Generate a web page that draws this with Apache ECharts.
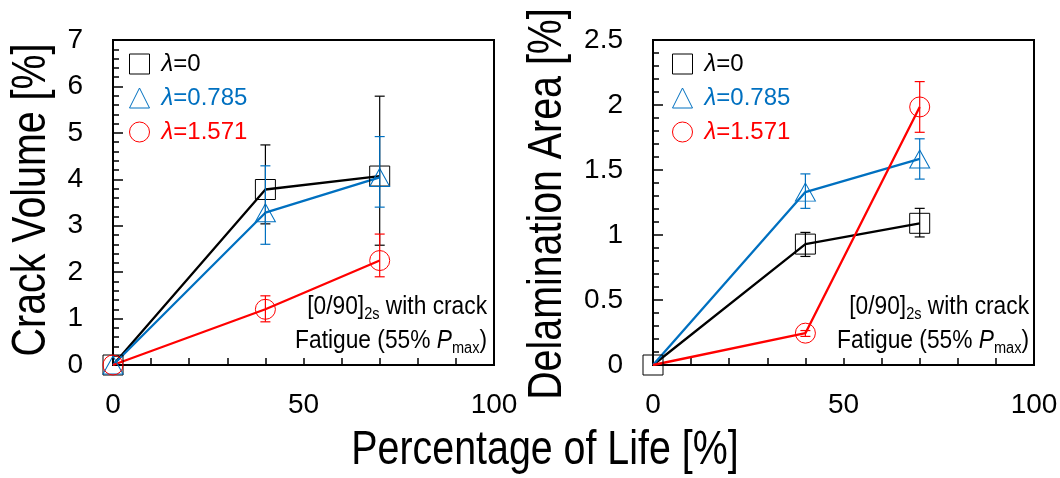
<!DOCTYPE html>
<html>
<head>
<meta charset="utf-8">
<script src="https://cdn.jsdelivr.net/npm/echarts@6/dist/echarts.min.js"></script>
<style>
  html, body { margin: 0; padding: 0; background: #ffffff; }
  #chart { width: 1060px; height: 478px; }
</style>
</head>
<body>
<div id="chart"></div>
<script>
// Inspection points, percentage of fatigue life
const lifePercent = [0, 40, 70];
const seriesNames = ['λ=0', 'λ=0.785', 'λ=1.571'];

// Crack volume [%] – mean and scatter bounds for each λ
const crackVolume0 = [0, 3.78, 4.07];
const crackVolume0Low = [null, 3.04, 2.58];
const crackVolume0High = [null, 4.74, 5.79];
const crackVolume785 = [0, 3.28, 4.04];
const crackVolume785Low = [null, 2.60, 3.40];
const crackVolume785High = [null, 4.29, 4.92];
const crackVolume1571 = [0, 1.20, 2.25];
const crackVolume1571Low = [null, 0.93, 1.90];
const crackVolume1571High = [null, 1.49, 2.82];

// Delamination area [%] – mean and scatter bounds for each λ
const delam0 = [0, 0.93, 1.09];
const delam0Low = [null, 0.835, 0.985];
const delam0High = [null, 1.02, 1.205];
const delam785 = [0, 1.33, 1.585];
const delam785Low = [null, 1.205, 1.43];
const delam785High = [null, 1.47, 1.74];
const delam1571 = [0, 0.245, 1.985];
const delam1571Low = [null, 0.22, 1.79];
const delam1571High = [null, 0.265, 2.18];

// Axis ranges and tick steps
const xTicks = { min: 0, max: 100, interval: 50 };
const crackTicks = { min: 0, max: 7, interval: 1 };
const delamTicks = { min: 0, max: 2.5, interval: 0.5 };

const FONT = "'Liberation Sans', Arial, sans-serif";
const NARROW = 0.82; // horizontal squeeze giving the narrow typeface look
const COLORS = ['#000000', '#0070C0', '#FF0000'];
const SYMBOLS = ['rect', 'triangle', 'circle'];
const SYMBOL_SIZES = [20, [20, 18], 20];

function lineSeries(idx, values, gridIdx, hideOrigin) {
  return {
    type: 'line',
    name: seriesNames[idx],
    xAxisIndex: gridIdx,
    yAxisIndex: gridIdx,
    data: values.map((v, i) => {
      const item = { value: [lifePercent[i], v] };
      if (hideOrigin && i === 0) item.symbol = 'none';
      return item;
    }),
    symbol: SYMBOLS[idx],
    symbolSize: SYMBOL_SIZES[idx],
    showSymbol: true,
    lineStyle: { color: COLORS[idx], width: 2.3 },
    itemStyle: { color: 'rgba(0,0,0,0)', borderColor: COLORS[idx], borderWidth: 1 },
    emphasis: { disabled: true },
    animation: false,
    z: 3
  };
}

function errorSeries(idx, low, high, gridIdx) {
  const rows = [];
  lifePercent.forEach((x, i) => {
    if (low[i] != null && high[i] != null) rows.push([x, low[i], high[i]]);
  });
  return {
    type: 'custom',
    name: seriesNames[idx],
    xAxisIndex: gridIdx,
    yAxisIndex: gridIdx,
    data: rows,
    encode: { x: 0, y: [1, 2] },
    renderItem: function (params, api) {
      const x = api.value(0);
      const lo = api.coord([x, api.value(1)]);
      const hi = api.coord([x, api.value(2)]);
      const w = 5;
      const style = { stroke: COLORS[idx], lineWidth: 1.2 };
      return {
        type: 'group',
        children: [
          { type: 'line', shape: { x1: lo[0], y1: lo[1], x2: hi[0], y2: hi[1] }, style: style },
          { type: 'line', shape: { x1: lo[0] - w, y1: lo[1], x2: lo[0] + w, y2: lo[1] }, style: style },
          { type: 'line', shape: { x1: hi[0] - w, y1: hi[1], x2: hi[0] + w, y2: hi[1] }, style: style }
        ]
      };
    },
    animation: false,
    z: 4
  };
}

function xAxis(gridIdx) {
  return {
    type: 'value',
    gridIndex: gridIdx,
    min: xTicks.min, max: xTicks.max, interval: xTicks.interval,
    axisLine: { show: true, onZero: false, lineStyle: { color: '#000', width: 2 } },
    axisTick: { show: true, inside: true, length: 7, lineStyle: { color: '#000', width: 1.5 } },
    minorTick: { show: true, splitNumber: 5, length: 7, lineStyle: { color: '#000', width: 1.5 } },
    splitLine: { show: false },
    axisLabel: { color: '#000', fontSize: 28, fontFamily: FONT, margin: 26 }
  };
}

function yAxis(gridIdx, ticks) {
  return {
    type: 'value',
    gridIndex: gridIdx,
    min: ticks.min, max: ticks.max, interval: ticks.interval,
    axisLine: { show: true, onZero: false, lineStyle: { color: '#000', width: 2 } },
    axisTick: { show: true, inside: true, length: 10, lineStyle: { color: '#000', width: 1.5 } },
    minorTick: { show: true, splitNumber: 5, length: 6, lineStyle: { color: '#000', width: 1.5 } },
    splitLine: { show: false },
    axisLabel: { color: '#000', fontSize: 28, fontFamily: FONT, margin: 30 }
  };
}

function legend(left) {
  return {
    orient: 'vertical',
    left: left,
    top: 47,
    itemWidth: 20,
    itemHeight: 20,
    itemGap: 10,
    selectedMode: false,
    data: seriesNames.map((n, i) => ({
      name: n,
      icon: SYMBOLS[i],
      itemStyle: { color: 'rgba(0,0,0,0)', borderColor: COLORS[i], borderWidth: 1 },
      textStyle: { color: COLORS[i] }
    })),
    formatter: n => '{i|λ}{t|' + n.slice(1) + '}',
    textStyle: {
      fontSize: 24, fontFamily: FONT, lineHeight: 20, padding: [0, 0, 0, 7],
      rich: {
        i: { fontStyle: 'italic', fontSize: 24, fontFamily: FONT, lineHeight: 20 },
        t: { fontSize: 24, fontFamily: FONT, lineHeight: 20 }
      }
    }
  };
}

function note(x, y, text) {
  return {
    type: 'text',
    x: x, y: y,
    scaleX: 0.91,
    z: 10,
    style: {
      text: text,
      fill: '#000',
      fontSize: 25,
      fontFamily: FONT,
      lineHeight: 32,
      align: 'right',
      verticalAlign: 'middle',
      rich: {
        sub: { fontSize: 16, fontFamily: FONT, lineHeight: 16, verticalAlign: 'bottom', fill: '#000' },
        it: { fontSize: 25, fontFamily: FONT, fontStyle: 'italic', fill: '#000' }
      }
    }
  };
}

function title(x, y, text, rotation) {
  return {
    type: 'text',
    x: x, y: y,
    rotation: rotation,
    scaleX: NARROW,
    z: 10,
    style: {
      text: text,
      fill: '#000', fontSize: 48, fontFamily: FONT,
      align: 'center', verticalAlign: 'middle'
    }
  };
}

const chart = echarts.init(document.getElementById('chart'), null, { renderer: 'canvas' });

chart.setOption({
  backgroundColor: '#ffffff',
  animation: false,
  grid: [
    { left: 113, top: 40, width: 381, height: 325, outerBoundsMode: 'none', containLabel: false,
      show: true, borderColor: '#000', borderWidth: 2, backgroundColor: 'transparent' },
    { left: 653, top: 40, width: 381, height: 325, outerBoundsMode: 'none', containLabel: false,
      show: true, borderColor: '#000', borderWidth: 2, backgroundColor: 'transparent' }
  ],
  xAxis: [xAxis(0), xAxis(1)],
  yAxis: [yAxis(0, crackTicks), yAxis(1, delamTicks)],
  legend: [legend(124), legend(667)],
  series: [
    lineSeries(0, crackVolume0, 0, false),
    lineSeries(1, crackVolume785, 0, false),
    lineSeries(2, crackVolume1571, 0, false),
    errorSeries(0, crackVolume0Low, crackVolume0High, 0),
    errorSeries(1, crackVolume785Low, crackVolume785High, 0),
    errorSeries(2, crackVolume1571Low, crackVolume1571High, 0),
    lineSeries(0, delam0, 1, false),
    lineSeries(1, delam785, 1, true),
    lineSeries(2, delam1571, 1, true),
    errorSeries(0, delam0Low, delam0High, 1),
    errorSeries(1, delam785Low, delam785High, 1),
    errorSeries(2, delam1571Low, delam1571High, 1)
  ],
  graphic: [
    note(487, 307, '[0/90]{sub|2s} with crack'),
    note(487, 341, 'Fatigue (55% {it|P}{sub|max})'),
    note(1029, 307, '[0/90]{sub|2s} with crack'),
    note(1029, 341, 'Fatigue (55% {it|P}{sub|max})'),
    title(32, 200, 'Crack Volume [%]', Math.PI / 2),
    title(548, 204, 'Delamination Area [%]', Math.PI / 2),
    title(545, 451, 'Percentage of Life [%]', 0)
  ]
});
</script>
</body>
</html>
